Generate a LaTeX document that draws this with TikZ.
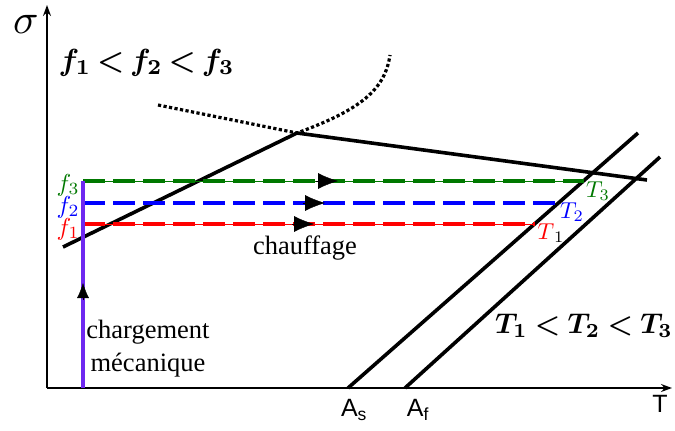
\documentclass[tikz,border=0pt]{standalone}
\usepackage[no-math]{fontspec}
\setmainfont{Liberation Serif}
\newfontfamily\sansf{Liberation Sans}
\usetikzlibrary{arrows.meta}
\definecolor{mgreen}{RGB}{0,120,0}
\definecolor{mpurple}{RGB}{110,40,240}
\tikzset{
  axis/.style={line width=1.4pt,-{Stealth[length=11pt,width=8pt]}},
  thickline/.style={line width=3.6pt},
  dotline/.style={line width=3.2pt,dash pattern=on 3.2pt off 2.4pt},
  dashline/.style={line width=3.2pt,dash pattern=on 22pt off 8pt},
  thinline/.style={line width=1pt},
  tipa/.style={line width=0.4pt,-{Latex[length=20pt,width=16pt]}},
  bigmath/.style={inner sep=0pt},
  boldm/.style={inner sep=0pt,font=\boldmath},
  flab/.style={inner sep=0pt,scale=2.45},
  tlab/.style={inner sep=0pt,scale=2.3},
  serifl/.style={inner sep=0pt,font=\fontsize{26.5}{33}\selectfont,align=center},
  sansl/.style={inner sep=0pt,font=\sansf\fontsize{25}{30}\selectfont},
}
\begin{document}
\begin{tikzpicture}[x=1pt,y=-1pt]
\useasboundingbox (0,0) rectangle (675,431);
% axes
\coordinate (O) at (47,388);
\coordinate (ytop) at (47,5);
\coordinate (xend) at (672,388);
\draw[axis] (O) -- (ytop);
\draw[axis] (O) -- (xend);
\node[bigmath,scale=4.2] (sig) at (26,24) {$\sigma$};
\node[boldm,scale=3.05,anchor=base] (ftext) at (146.5,70) {$\thickmuskip=3mu f_1 < f_2 < f_3$};
\node[boldm,scale=2.85,anchor=base] (ttext) at (584,333) {$\thickmuskip=4mu T_1 < T_2 < T_3$};
% transformation lines
\coordinate (ms1) at (63,247);
\coordinate (mc) at (297,133);
\coordinate (ms2) at (647,180);
\coordinate (dt1) at (158,105);
\coordinate (dt2) at (390,55);
\draw[thickline] (ms1) -- (mc) -- (ms2);
\draw[dotline] (dt1) -- (mc) .. controls (360,110) and (385,90) .. (dt2);
\coordinate (As) at (348,388);
\coordinate (Ast) at (638,133);
\coordinate (Af) at (405,388);
\coordinate (Aft) at (660,157);
\draw[thickline] (As) -- (Ast);
\draw[thickline] (Af) -- (Aft);
% loading paths
\coordinate (L0) at (83,388);
\coordinate (L1) at (83,224);
\coordinate (L2) at (83,203);
\coordinate (L3) at (83,181);
\coordinate (R1) at (535,224);
\coordinate (R2) at (559,203);
\coordinate (R3) at (584,181);
\draw[thinline,red] (L1) -- (R1);
\draw[dashline,red] (L1) -- (R1);
\draw[dashline,blue] (L2) -- (R2);
\draw[thinline,mgreen] (L3) -- (R3);
\draw[dashline,mgreen] (L3) -- (R3);
\draw[line width=3.2pt,mpurple] (L0) -- (L3);
% arrows
\coordinate (a1s) at (292,224); \coordinate (a1e) at (314,224);
\coordinate (a2s) at (303,203); \coordinate (a2e) at (325,203);
\coordinate (a3s) at (316,181); \coordinate (a3e) at (338,181);
\coordinate (a4s) at (83,300); \coordinate (a4e) at (83,283);
\draw[tipa] (a1s) -- (a1e);
\draw[tipa] (a2s) -- (a2e);
\draw[tipa] (a3s) -- (a3e);
\draw[line width=0.4pt,-{Latex[length=15pt,width=12pt]}] (a4s) -- (a4e);
% labels
\node[flab,text=mgreen] (f3) at (68,185) {$f_3$};
\node[flab,text=blue] (f2) at (68,207) {$f_2$};
\node[flab,text=red] (f1) at (68,229) {$f_1$};
\node[tlab,text=mgreen] (T3) at (598,191) {$T_3$};
\node[tlab,text=blue] (T2) at (572,212) {$T_2$};
\node[tlab] (T1) at (551,233) {$\textcolor{red}{T}_1$};
\node[serifl] (chauf) at (305,248) {chauffage};
\node[serifl] (charg) at (148,349) {chargement\\mécanique};
\node[sansl] (AsL) at (354,410) {A\textsubscript{s}};
\node[sansl] (AfL) at (418,410) {A\textsubscript{f}};
\node[sansl] (TL) at (660,404) {T};
\end{tikzpicture}
\end{document}
